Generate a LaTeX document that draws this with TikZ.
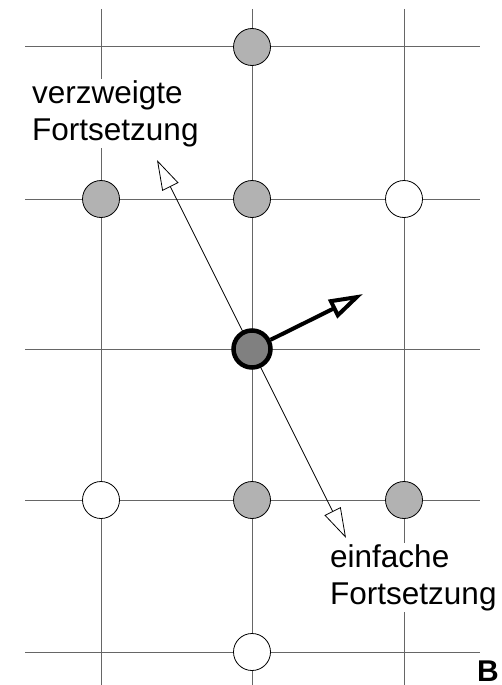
\documentclass[tikz,border=0pt]{standalone}
\usepackage{fontspec}
\setmainfont{Liberation Sans}
\usetikzlibrary{positioning, arrows.meta}
\tikzstyle{Arrow} = [
    line width=0.8pt,
    {Triangle[open, length=30pt, width=18pt]}-{Triangle[open, length=30pt, width=18pt]}
]
\tikzstyle{Heavy} = [
    line width=4pt,
    -{Triangle[open, length=34pt, width=20pt]}
]

\begin{document}
\begin{tikzpicture}[x=1pt, y=-1pt,
gridline/.style = {black!60, line width=1pt},
site/.style = {
    circle,
    draw,
    line width=0.8pt,
    minimum size=37pt,
    inner sep=0pt,
    fill=black!30
    },
vacant/.style = {site, fill=white},
note/.style = {
    fill=white,
    inner sep=1.5pt,
    align=left,
    font=\fontsize{31.5}{37}\selectfont
    }
]
\useasboundingbox (0,0) rectangle (502,685);

% grid
\foreach \x in {101, 252, 404}
    \draw[gridline] (\x,9) -- (\x,685);
\foreach \y in {47, 199, 349, 500, 652}
    \draw[gridline] (25,\y) -- (480,\y);

% continuation line through the centre
\coordinate (vz) at (157,160);
\coordinate (ef) at (346,538);
\draw[Arrow] (vz) -- (ef);

% grid sites
\node[site] (n) at (252,47) {};
\node[site] (nw) at (101,199) {};
\node[site] (nn) at (252,199) {};
\node[vacant] (ne) at (404,199) {};
\node[site, fill=black!50, line width=4.5pt] (c) at (252,349) {};
\node[vacant] (sw) at (101,500) {};
\node[site] (ss) at (252,500) {};
\node[site] (se) at (404,500) {};
\node[vacant] (s) at (252,652) {};

\coordinate (dir) at (363,294);
\draw[Heavy] (c) -- (dir);

% labels
\node[note, anchor=base west] (branch) at (30.5,140) {verzweigte\\Fortsetzung};
\node[note, anchor=base west] (simple) at (328.5,604) {einfache\\Fortsetzung};
\node[anchor=base west, inner sep=0pt, font=\bfseries\fontsize{30}{34}\selectfont] (B) at (477,681) {B};

\end{tikzpicture}
\end{document}
